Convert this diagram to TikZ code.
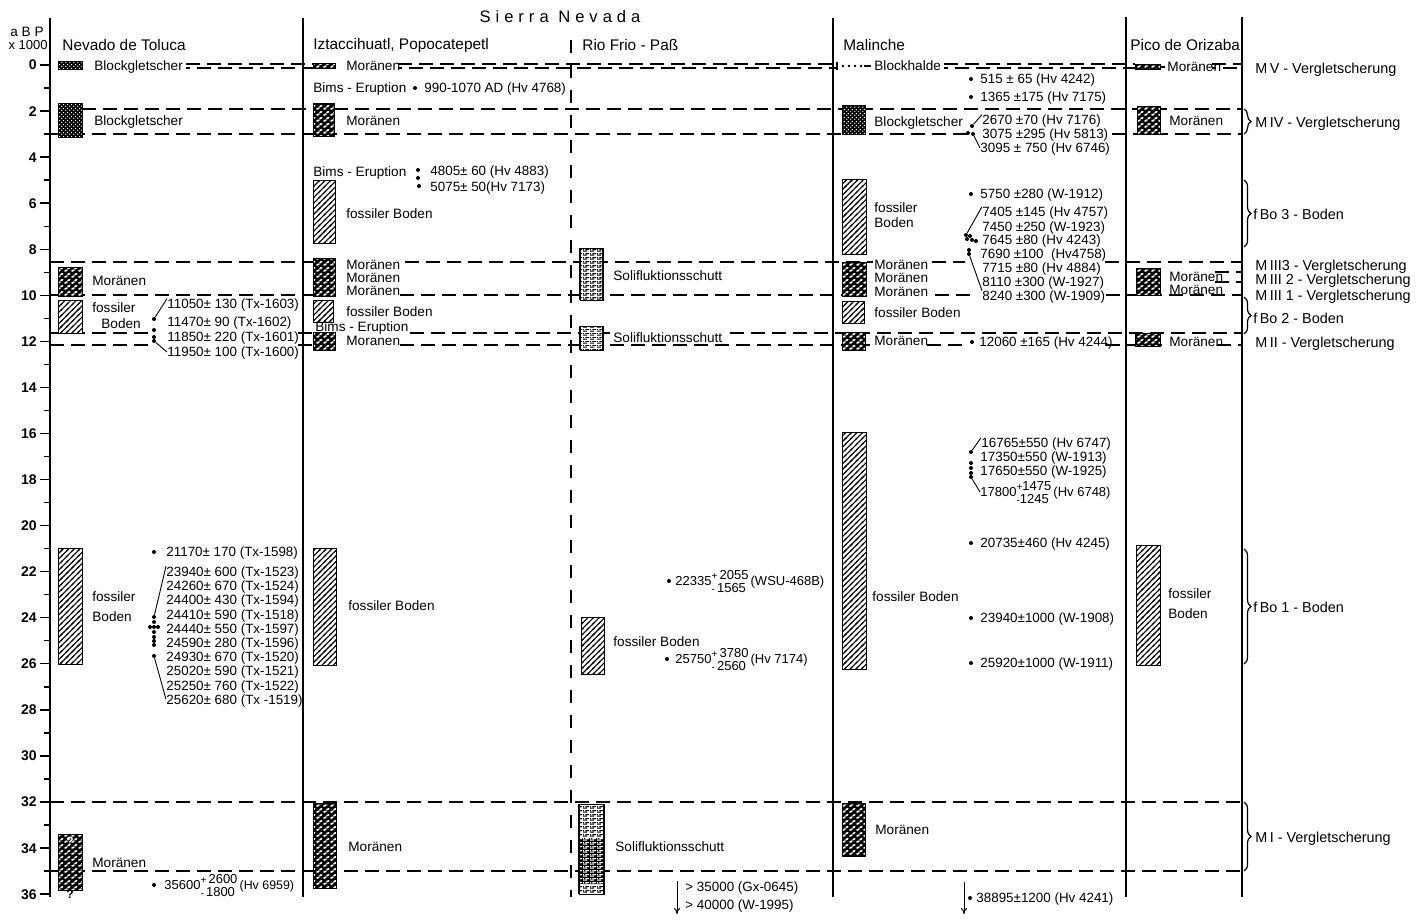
\documentclass[tikz,border=0pt]{standalone}
\usepackage{fontspec}
\setmainfont{Liberation Sans}
\newfontfamily\spacedfont[LetterSpace=30]{Liberation Sans}
\usetikzlibrary{patterns,decorations.pathreplacing,arrows.meta}

\pgfdeclarepatternformonly{finedots}{\pgfqpoint{0pt}{0pt}}{\pgfqpoint{1.8pt}{1.8pt}}{\pgfqpoint{1.8pt}{1.8pt}}{%
  \pgfpathcircle{\pgfqpoint{0.45pt}{0.45pt}}{0.4pt}%
  \pgfpathcircle{\pgfqpoint{1.35pt}{1.35pt}}{0.4pt}%
  \pgfusepath{fill}}
\pgfdeclarepatternformonly{moraine}{\pgfqpoint{0pt}{0pt}}{\pgfqpoint{3.6pt}{3pt}}{\pgfqpoint{3.6pt}{3pt}}{%
  \pgfsetlinewidth{0.95pt}\pgfsetroundcap
  \pgfpathmoveto{\pgfqpoint{0.55pt}{0.55pt}}\pgfpathlineto{\pgfqpoint{1.6pt}{1.05pt}}%
  \pgfpathmoveto{\pgfqpoint{2.2pt}{1.95pt}}\pgfpathlineto{\pgfqpoint{3.1pt}{2.45pt}}%
  \pgfusepath{stroke}}
\pgfdeclarepatternformonly{schutt}{\pgfqpoint{0pt}{0pt}}{\pgfqpoint{3.2pt}{2pt}}{\pgfqpoint{3.2pt}{2pt}}{%
  \pgfsetlinewidth{0.55pt}%
  \pgfpathmoveto{\pgfqpoint{0pt}{0.5pt}}\pgfpathlineto{\pgfqpoint{2.2pt}{0.5pt}}%
  \pgfpathmoveto{\pgfqpoint{1.3pt}{1.5pt}}\pgfpathlineto{\pgfqpoint{3.2pt}{1.5pt}}%
  \pgfpathmoveto{\pgfqpoint{0pt}{1.5pt}}\pgfpathlineto{\pgfqpoint{0.4pt}{1.5pt}}%
  \pgfusepath{stroke}}
\pgfdeclarepatternformonly{hatch}{\pgfqpoint{-1pt}{-1pt}}{\pgfqpoint{3.8pt}{3.8pt}}{\pgfqpoint{2.8pt}{2.8pt}}{%
  \pgfsetlinewidth{0.55pt}%
  \pgfpathmoveto{\pgfqpoint{-0.5pt}{-0.5pt}}\pgfpathlineto{\pgfqpoint{3.3pt}{3.3pt}}%
  \pgfusepath{stroke}}

\newcommand\updn[2]{\begin{tabular}[c]{@{}l@{}}#1\\[-1.2pt]#2\end{tabular}}
\newcommand\sgn[1]{{\fontsize{5}{6}\selectfont#1}}
\newcommand\schbox[4]{\draw[sch] (#1,#2) rectangle (#3,#4);
  \draw[line width=1.1pt] (#1,#2) -- (#1,#4) (#3,#2) -- (#3,#4);}

\begin{document}
\begin{tikzpicture}[x=0.5pt,y=-0.5pt,
  colline/.style={line width=1.2pt},
  hl/.style={line width=0.7pt, dash pattern=on 7pt off 3.5pt},
  txt/.style={anchor=west, inner sep=0pt, text height=4.9pt, text depth=0pt, font=\fontsize{6.8}{8}\selectfont},
  dat/.style={txt, font=\fontsize{6.7}{8}\selectfont},
  stk/.style={txt, font=\fontsize{6.5}{7.4}\selectfont},
  hdr/.style={txt, font=\fontsize{7.7}{9}\selectfont, text height=5.5pt},
  glac/.style={txt, font=\fontsize{7.2}{9}\selectfont, text height=5.2pt},
  num/.style={anchor=east, inner sep=0pt, text height=5pt, text depth=0pt, font=\fontsize{7}{8}\selectfont\bfseries},
  boden/.style={preaction={fill=white}, pattern=hatch, pattern color=black, draw, line width=0.5pt},
  mor/.style={preaction={fill=black}, pattern=moraine, pattern color=white, draw, line width=0.5pt},
  blk/.style={preaction={fill=black}, pattern=finedots, pattern color=white, draw, line width=0.5pt},
  sch/.style={preaction={fill=white}, pattern=schutt, pattern color=black, draw, line width=0.5pt},
  schdark/.style={preaction={fill=black}, pattern=schutt, pattern color=white},
  datum/.style={circle, fill, inner sep=0pt, minimum size=2pt},
  con/.style={line width=0.45pt},
  brc/.style={decorate, decoration={brace, amplitude=3.5pt}, line width=0.6pt},
  arr/.style={-{To[length=3pt,width=3pt]}, line width=0.5pt}]
\useasboundingbox (0,0) rectangle (1422,920);

% ---------- horizontal dashed lines ----------
\foreach \a/\b in {186/313, 398/838, 944/1135, 1212/1242} {
  \draw[hl] (\a,64) -- (\b,64);
  \draw[hl, dash phase=5pt] (\a,68) -- (\b,68);
}
\draw[hl] (82,109) -- (1242,109);
\draw[hl] (50,134) -- (968,134);
\draw[hl] (1112,134) -- (1242,134);
\draw[hl] (50,262) -- (313,262);
\draw[hl] (405,262) -- (873,262);
\draw[hl] (932,262) -- (965,262);
\draw[hl] (1105,262) -- (1242,262);
\draw[hl] (1215,272) -- (1242,272);
\draw[hl] (1215,282) -- (1242,282);
\draw[hl] (50,295) -- (313,295);
\draw[hl] (400,295) -- (842,295);
\draw[hl] (935,295) -- (977,295);
\draw[hl] (1106,295) -- (1242,295);
\draw[hl] (50,333) -- (152,333);
\draw[hl] (298,333) -- (313,333);
\draw[hl] (410,333) -- (610,333);
\draw[hl] (730,333) -- (1242,333);
\draw[hl] (50,345) -- (152,345);
\draw[hl] (298,345) -- (313,345);
\draw[hl] (400,345) -- (870,345);
\draw[hl] (927,345) -- (966,345);
\draw[hl] (1106,345) -- (1166,345);
\draw[hl] (1217,345) -- (1242,345);
\draw[hl] (50,802) -- (1242,802);
\draw[hl] (50,871) -- (1242,871);

% ---------- column lines ----------
\draw[colline] (50,18) -- (50,897);
\draw[colline] (303,18) -- (303,897);
\draw[line width=0.8pt, dash pattern=on 6.5pt off 6pt] (571,40) -- (571,897);
\draw[colline] (833,18) -- (833,897);
\draw[colline] (1126,17) -- (1126,897);
\draw[colline] (1242,17) -- (1242,897);

% ---------- axis ----------
\foreach \k in {0,2,...,36} {
  \draw[line width=0.7pt] (40,{65+23.03*\k}) -- (50,{65+23.03*\k});
  \node[num] (ax\k) at (37,{65+23.03*\k}) {\k};
}
\foreach \k in {1,3,...,35} {
  \draw[line width=0.7pt] (44,{65+23.03*\k}) -- (50,{65+23.03*\k});
}
\node[num, font=\fontsize{6.8}{8}\selectfont] (abp) at (44,32) {a B P};
\node[num, font=\fontsize{6.5}{8}\selectfont] (x1000) at (48,45) {x 1000};

% ---------- titles ----------
\node[inner sep=0pt, font=\spacedfont\fontsize{8.3}{10}\selectfont] (title) at (560,17) {Sierra Nevada};
\node[hdr] (h1) at (62,45) {Nevado de Toluca};
\node[hdr] (h2) at (313,44) {Iztaccihuatl, Popocatepetl};
\node[hdr] (h3) at (582,45) {Rio Frio - Paß};
\node[hdr] (h4) at (843,45) {Malinche};
\node[hdr] (h5) at (1130,45) {Pico de Orizaba};

% ---------- Nevado de Toluca ----------
\draw[blk] (58,62) rectangle (82,70);
\node[txt] (nv1) at (94,66) {Blockgletscher};
\draw[blk] (58,104) rectangle (82,137);
\node[txt] (nv2) at (94,121) {Blockgletscher};
\draw[mor] (58,267) rectangle (82,296);
\node[txt] (nv3) at (92,281) {Moränen};
\draw[boden] (58,300) rectangle (82,333);
\node[txt] (nv4) at (92,308) {fossiler};
\node[txt] (nv5) at (101,324) {Boden};
\draw[boden] (58,548) rectangle (82,664);
\node[txt] (nv6) at (92,597) {fossiler};
\node[txt] (nv7) at (92,617) {Boden};
\draw[mor] (58,834) rectangle (82,890);
\node[txt] (nv8) at (92,863) {Moränen};
\node[inner sep=0pt, text=white, font=\fontsize{6}{7}\selectfont\bfseries] (q1) at (70,841) {?};
\node[inner sep=0pt, font=\fontsize{6}{7}\selectfont\bfseries] (q2) at (70,894) {?};

\node[dat] (na1) at (167,304) {11050± 130 (Tx-1603)};
\node[dat] (na2) at (167,322) {11470± 90 (Tx-1602)};
\node[dat] (na3) at (167,337) {11850± 220 (Tx-1601)};
\node[dat] (na4) at (167,352) {11950± 100 (Tx-1600)};
\node[datum] (pa1) at (154,319) {};
\node[datum] (pa2) at (154,330) {};
\node[datum] (pa3) at (154,337) {};
\node[datum] (pa4) at (154,341) {};
\draw[con] (pa1) -- (na1.north west);
\draw[con] (pa4) -- (na4.west);

\node[dat] (nb1) at (166,552) {21170± 170 (Tx-1598)};
\node[dat] (nb2) at (166,571.5) {23940± 600 (Tx-1523)};
\node[dat] (nb3) at (166,585.7) {24260± 670 (Tx-1524)};
\node[dat] (nb4) at (166,599.9) {24400± 430 (Tx-1594)};
\node[dat] (nb5) at (166,614.1) {24410± 590 (Tx-1518)};
\node[dat] (nb6) at (166,628.3) {24440± 550 (Tx-1597)};
\node[dat] (nb7) at (166,642.5) {24590± 280 (Tx-1596)};
\node[dat] (nb8) at (166,656.7) {24930± 670 (Tx-1520)};
\node[dat] (nb9) at (166,670.9) {25020± 590 (Tx-1521)};
\node[dat] (nb10) at (166,685.1) {25250± 760 (Tx-1522)};
\node[dat] (nb11) at (166,699.3) {25620± 680 (Tx -1519)};
\node[datum] (pb1) at (154,552) {};
\node[datum] (pb2) at (154,617) {};
\node[datum] (pb3) at (154,622) {};
\node[datum] (pb4) at (150,627) {};
\node[datum] (pb5) at (154,627) {};
\node[datum] (pb6) at (158,627) {};
\node[datum] (pb7) at (154,632) {};
\node[datum] (pb8) at (154,637) {};
\node[datum] (pb9) at (154,641) {};
\node[datum] (pb10) at (154,645) {};
\node[datum] (pb11) at (154,656) {};
\draw[con] (pb2) -- (nb2.north west);
\draw[con] (pb11) -- (nb11.west);

\node[datum] (pc1) at (154,885) {};
\node[stk] (nc1) at (164,885) {35600\updn{\sgn{+}\,2600}{\sgn{-}\,1800}\,{\fontsize{6.2}{7}\selectfont(Hv 6959)}};

% ---------- Iztaccihuatl, Popocatepetl ----------
\draw[mor] (313,64) rectangle (335,69);
\node[txt] (iz1) at (346,66) {Moränen};
\node[txt] (iz2) at (313,88) {Bims - Eruption};
\node[datum] (pi1) at (415,88) {};
\node[dat] (iz3) at (424,88) {990-1070 AD (Hv 4768)};
\draw[mor] (313,104) rectangle (334,136);
\node[txt] (iz4) at (346,121) {Moränen};
\node[txt] (iz5) at (313,172) {Bims - Eruption};
\node[datum] (pi2) at (418,170) {};
\node[datum] (pi3) at (418,178) {};
\node[datum] (pi4) at (419,186) {};
\node[dat] (iz6) at (430,171) {4805± 60 (Hv 4883)};
\node[dat] (iz7) at (430,187) {5075± 50(Hv 7173)};
\draw[boden] (313,180) rectangle (335,243);
\node[txt] (iz8) at (346,214) {fossiler Boden};
\draw[mor] (313,258) rectangle (335,296);
\node[txt] (iz9) at (346,265) {Moränen};
\node[txt] (iz10) at (346,278) {Moränen};
\node[txt] (iz11) at (346,291) {Moränen};
\draw[boden] (313,300) rectangle (333,322);
\node[txt] (iz12) at (346,312) {fossiler Boden};
\draw[mor] (313,332) rectangle (335,350);
\node[txt] (iz13) at (315,327) {Bims - Eruption};
\node[txt] (iz14) at (346,341) {Moranen};
\draw[boden] (313,548) rectangle (336,665);
\node[txt] (iz15) at (348,606) {fossiler Boden};
\draw[mor] (313,803) rectangle (336,888);
\node[txt] (iz16) at (348,847) {Moränen};

% ---------- Rio Frio - Paß ----------
\schbox{580}{248}{603}{300}
\node[txt] (rf1) at (613,276) {Solifluktionsschutt};
\schbox{580}{326}{603}{350}
\node[txt] (rf2) at (613,338) {Solifluktionsschutt};
\draw[boden] (581,617) rectangle (604,674);
\node[txt] (rf3) at (613,642) {fossiler Boden};
\node[datum] (pr1) at (669,581) {};
\node[stk] (rf4) at (675,581) {22335\updn{\sgn{+}\,2055}{\sgn{-}\,1565}\,(WSU-468B)};
\node[datum] (pr2) at (667,659) {};
\node[stk] (rf5) at (675,659) {25750\updn{\sgn{+}\,3780}{\sgn{-}\,2560}\,(Hv 7174)};
\schbox{579}{804}{604}{894}
\fill[schdark] (580,838) rectangle (603,884);
\node[txt] (rf6) at (615,847) {Solifluktionsschutt};
\coordinate (ra1) at (677,881);
\coordinate (ra2) at (677,914);
\draw[arr] (ra1) -- (ra2);
\node[dat] (rf7) at (685,887) {> 35000 (Gx-0645)};
\node[dat] (rf8) at (685,905) {> 40000 (W-1995)};

% ---------- Malinche ----------
\coordinate (bh0) at (837,62);
\coordinate (bh1) at (837,70);
\draw[line width=0.6pt] (bh0) -- (bh1);
\foreach \xx in {843,849,855,861} { \fill (\xx,66) circle (1.4); }
\coordinate (bh2) at (864,66);
\coordinate (bh3) at (871,66);
\draw[line width=0.6pt] (bh2) -- (bh3);
\node[txt] (ma1) at (874,66) {Blockhalde};
\node[datum] (pm1) at (971,79) {};
\node[dat] (ma2) at (980,79) {515 ± 65 (Hv 4242)};
\node[datum] (pm2) at (971,97) {};
\node[dat] (ma3) at (980,97) {1365 ±175 (Hv 7175)};
\draw[blk] (842,106) rectangle (865,134);
\node[txt] (ma4) at (874,122) {Blockgletscher};
\node[dat] (ma5) at (982,120) {2670 ±70 (Hv 7176)};
\node[dat] (ma6) at (982,134) {3075 ±295 (Hv 5813)};
\node[dat] (ma7) at (980,148) {3095 ± 750 (Hv 6746)};
\node[datum] (pm3) at (972,126) {};
\node[datum] (pm4) at (968,133) {};
\node[datum] (pm5) at (973,134) {};
\draw[con] (pm3) -- (ma5.north west);
\draw[con] (pm5) -- (ma7.west);
\draw[boden] (842,179) rectangle (866,254);
\node[txt] (ma8) at (874,208) {fossiler};
\node[txt] (ma9) at (874,223) {Boden};
\node[datum] (pm6) at (971,194) {};
\node[dat] (ma10) at (980,194) {5750 ±280 (W-1912)};
\node[dat] (ma11) at (982,212) {7405 ±145 (Hv 4757)};
\node[dat] (ma12) at (982,227) {7450 ±250 (W-1923)};
\node[dat] (ma13) at (982,240) {7645 ±80 (Hv 4243)};
\node[dat] (ma14) at (980,254) {7690 ±100 \ (Hv4758)};
\node[dat] (ma15) at (982,268) {7715 ±80 (Hv 4884)};
\node[dat] (ma16) at (982,282) {8110 ±300 (W-1927)};
\node[dat] (ma17) at (982,296) {8240 ±300 (W-1909)};
\node[datum] (pm7) at (966,235) {};
\node[datum] (pm8) at (970,236) {};
\node[datum] (pm9) at (967,239) {};
\node[datum] (pm10) at (972,240) {};
\node[datum] (pm11) at (976,241) {};
\node[datum] (pm12) at (969,250) {};
\node[datum] (pm13) at (969,254) {};
\draw[con] (pm7) -- (ma11.north west);
\draw[con] (pm13) -- (ma17.north west);
\draw[mor] (842,262) rectangle (866,296);
\node[txt] (ma18) at (874,265) {Moränen};
\node[txt] (ma19) at (874,278) {Moränen};
\node[txt] (ma20) at (874,292) {Moränen};
\draw[boden] (842,301) rectangle (864,323);
\node[txt] (ma21) at (874,313) {fossiler Boden};
\draw[mor] (842,332) rectangle (865,350);
\node[txt] (ma22) at (874,341) {Moränen};
\node[datum] (pm14) at (972,342) {};
\node[dat] (ma23) at (979,342) {12060 ±165 (Hv 4244)};
\draw[boden] (842,432) rectangle (866,669);
\node[txt] (ma24) at (872,597) {fossiler Boden};
\node[dat] (ma25) at (981,443) {16765±550 (Hv 6747)};
\node[dat] (ma26) at (980,457) {17350±550 (W-1913)};
\node[dat] (ma27) at (980,471) {17650±550 (W-1925)};
\node[stk] (ma28) at (980,492) {17800\updn{\sgn{+}1475}{\sgn{-}1245}\,(Hv 6748)};
\node[datum] (pm15) at (971,452) {};
\node[datum] (pm16) at (971,463) {};
\node[datum] (pm17) at (971,468) {};
\node[datum] (pm18) at (971,473) {};
\node[datum] (pm19) at (971,477) {};
\draw[con] (pm15) -- (ma25.north west);
\draw[con] (pm19) -- (ma28.west);
\node[datum] (pm20) at (971,543) {};
\node[dat] (ma29) at (980,543) {20735±460 (Hv 4245)};
\node[datum] (pm21) at (971,618) {};
\node[dat] (ma30) at (980,618) {23940±1000 (W-1908)};
\node[datum] (pm22) at (971,663) {};
\node[dat] (ma31) at (980,663) {25920±1000 (W-1911)};
\draw[mor] (842,803) rectangle (865,856);
\node[txt] (ma32) at (875,830) {Moränen};
\coordinate (ma1a) at (964,882);
\coordinate (ma1b) at (964,914);
\draw[arr] (ma1a) -- (ma1b);
\node[datum] (pm23) at (970,898) {};
\node[dat] (ma33) at (976,898) {38895±1200 (Hv 4241)};

% ---------- Pico de Orizaba ----------
\draw[mor] (1135,65) rectangle (1160,70);
\coordinate (po0) at (1160,67);
\coordinate (po1) at (1165,67);
\draw[line width=0.6pt] (po0) -- (po1);
\node[txt] (po2) at (1167,67) {Moränen};
\draw[mor] (1137,107) rectangle (1160,134);
\node[txt] (po3) at (1169,121) {Moränen};
\draw[mor] (1136,268) rectangle (1160,295);
\node[txt] (po4) at (1169,277) {Moränen};
\node[txt] (po5) at (1169,290) {Moränen};
\draw[mor] (1135,333) rectangle (1160,346);
\node[txt] (po6) at (1169,342) {Moränen};
\draw[boden] (1136,545) rectangle (1160,665);
\node[txt] (po7) at (1168,594) {fossiler};
\node[txt] (po8) at (1168,614) {Boden};

% ---------- right column ----------
\node[glac] (g1) at (1255,68) {M\,V - Vergletscherung};
\draw[brc] (1244,109) -- (1244,134);
\node[glac] (g2) at (1255,122) {M\,IV - Vergletscherung};
\draw[brc] (1244,180) -- (1244,247);
\node[glac] (g3) at (1253,214) {f\,Bo 3 - Boden};
\node[glac] (g4) at (1255,265) {M\,III3 - Vergletscherung};
\node[glac] (g5) at (1255,279) {M\,III 2 - Vergletscherung};
\node[glac] (g6) at (1255,295) {M\,III 1 - Vergletscherung};
\draw[brc] (1244,297) -- (1244,334);
\node[glac] (g7) at (1253,318) {f\,Bo 2 - Boden};
\node[glac] (g8) at (1255,342) {M\,II - Vergletscherung};
\draw[brc] (1244,549) -- (1244,664);
\node[glac] (g9) at (1253,607) {f\,Bo 1 - Boden};
\draw[brc] (1244,802) -- (1244,871);
\node[glac] (g10) at (1255,837) {M\,I - Vergletscherung};
\end{tikzpicture}
\end{document}
